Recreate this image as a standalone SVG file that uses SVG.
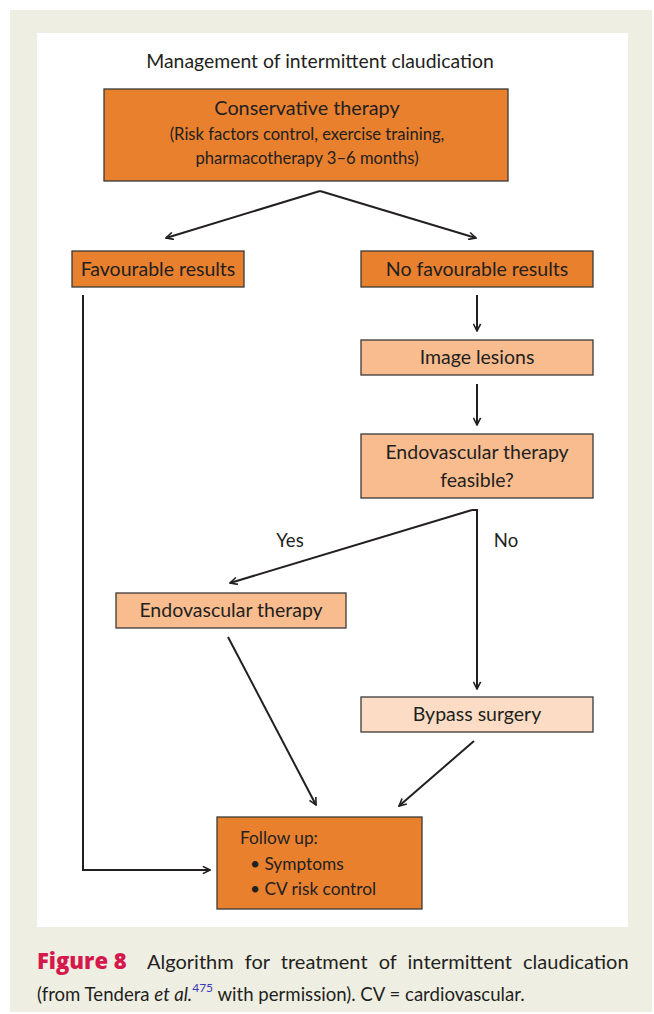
<svg xmlns="http://www.w3.org/2000/svg" width="654" height="1014" viewBox="0 0 654 1014">
<defs>
<style>
.t{font-family:Lato,"Open Sans","Liberation Sans",sans-serif;fill:#231f20}
.b{stroke:#3a3a3a;stroke-width:1.3}
.o{fill:#e8802e}.l{fill:#f9bc8f}.p{fill:#fcdcc4}
.c{fill:none;stroke:#231f20;stroke-width:2}
.n{font-size:19.5px;text-anchor:middle}
</style>
<marker id="ah" viewBox="0 0 10 10" refX="9" refY="5" markerWidth="9" markerHeight="9" markerUnits="userSpaceOnUse" orient="auto">
<path d="M1,1 L9,5 L1,9" fill="none" stroke="#231f20" stroke-width="1.8"/>
</marker>
</defs>
<rect x="0" y="0" width="654" height="1014" fill="#ffffff"/>
<rect x="10" y="10" width="642" height="1002" fill="#efeee3"/>
<rect x="37" y="33" width="591" height="894" fill="#ffffff"/>
<text class="t" x="320" y="68" font-size="19.4" text-anchor="middle">Management of intermittent claudication</text>
<g id="conservative">
<rect class="b o" x="104" y="89" width="404" height="92"/>
<text class="t" x="307" y="115" font-size="19.8" text-anchor="middle">Conservative therapy</text>
<text class="t" x="307" y="140" font-size="16.6" text-anchor="middle">(Risk factors control, exercise training,</text>
<text class="t" x="307" y="164" font-size="16.6" text-anchor="middle">pharmacotherapy 3–6 months)</text>
</g>
<g id="favourable">
<rect class="b o" x="72" y="251" width="172" height="36"/>
<text class="t n" x="158" y="276">Favourable results</text>
</g>
<g id="nofavourable">
<rect class="b o" x="361" y="251" width="232" height="36"/>
<text class="t n" x="477" y="276">No favourable results</text>
</g>
<g id="image">
<rect class="b l" x="361" y="340" width="232" height="35"/>
<text class="t n" x="477" y="364">Image lesions</text>
</g>
<g id="feasible">
<rect class="b l" x="361" y="434" width="232" height="64"/>
<text class="t n" x="477" y="459">Endovascular therapy</text>
<text class="t n" x="477" y="487">feasible?</text>
</g>
<g id="endovascular">
<rect class="b l" x="116" y="593" width="230" height="35"/>
<text class="t n" x="231" y="617">Endovascular therapy</text>
</g>
<g id="bypass">
<rect class="b p" x="361" y="697" width="232" height="35"/>
<text class="t n" x="477" y="721">Bypass surgery</text>
</g>
<g id="followup">
<rect class="b o" x="217" y="817" width="205" height="92"/>
<text class="t" x="240" y="844" font-size="17.3">Follow up:</text>
<text class="t" x="250" y="870" font-size="17.3">• Symptoms</text>
<text class="t" x="250" y="895" font-size="17.3">• CV risk control</text>
</g>
<g id="connectors">
<line class="c" x1="320" y1="191" x2="476" y2="238" marker-end="url(#ah)"/>
<line class="c" x1="320" y1="191" x2="166" y2="238" marker-end="url(#ah)"/>
<line class="c" x1="477" y1="295" x2="477" y2="331" marker-end="url(#ah)"/>
<line class="c" x1="477" y1="384" x2="477" y2="425" marker-end="url(#ah)"/>
<line class="c" x1="472" y1="510" x2="230" y2="583" marker-end="url(#ah)"/>
<polyline class="c" points="472,510 477,510 477,689" marker-end="url(#ah)"/>
<line class="c" x1="228" y1="637" x2="316" y2="805" marker-end="url(#ah)"/>
<line class="c" x1="474" y1="741" x2="399" y2="806" marker-end="url(#ah)"/>
<polyline class="c" points="83,295 83,870 210,870" marker-end="url(#ah)"/>
<text class="t" x="290" y="547" font-size="18.5" text-anchor="middle">Yes</text>
<text class="t" x="506" y="547" font-size="18.5" text-anchor="middle">No</text>
</g>
<text x="37" y="969" font-family="'Open Sans',Lato,'Liberation Sans',sans-serif" font-size="22" font-weight="800" fill="#d4184b">Figure 8</text>
<text class="t" x="147" y="969" font-size="20" word-spacing="6">Algorithm for treatment of intermittent claudication</text>
<text class="t" x="37" y="1001" font-size="18.6">(from Tendera <tspan font-style="italic">et al.</tspan><tspan fill="#3a3ab4" font-size="12" dy="-9">475</tspan><tspan dy="9"> with permission). CV = cardiovascular.</tspan></text>
</svg>
